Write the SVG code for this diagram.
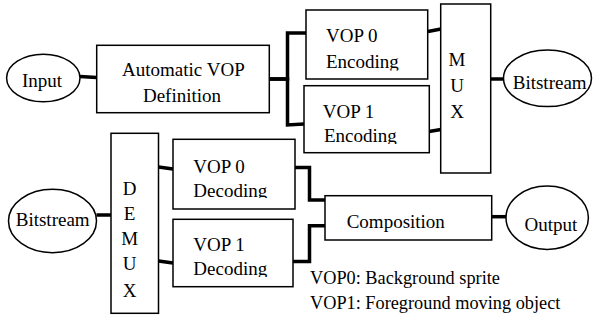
<svg xmlns="http://www.w3.org/2000/svg" width="593" height="324" viewBox="0 0 593 324">
<style>
.box{fill:#fff;stroke:#000;stroke-width:1.5}
.el{fill:#fff;stroke:#000;stroke-width:1.5}
.t{font-size:19px;fill:#000}
.lg{font-size:18.3px}
.c{text-anchor:middle}
.conn{fill:none;stroke:#000;stroke-width:3.5;stroke-linejoin:miter;stroke-linecap:butt}
</style>
<defs>
<clipPath id="clipE0"><rect x="306" y="10" width="122" height="60.5"/></clipPath>
<clipPath id="clipE1"><rect x="304" y="86" width="125" height="58"/></clipPath>
<clipPath id="clipD0"><rect x="173" y="139" width="122" height="59"/></clipPath>
<clipPath id="clipD1"><rect x="173" y="219" width="120" height="58"/></clipPath>
</defs>
<rect width="593" height="324" fill="#fff"/>
<g id="connectors">
<path class="conn" d="M80,76.5 L96.5,77.5"/>
<path class="conn" d="M269,79 H287.5 V33 H306"/>
<path class="conn" d="M269,79 H287.5 V125 L304,124"/>
<path class="conn" d="M428,31.5 L441,29"/>
<path class="conn" d="M429,131.5 L441,129.5"/>
<path class="conn" d="M491,79 H503.5"/>
<path class="conn" d="M96.5,215 H111"/>
<path class="conn" d="M158.5,167 L173,169"/>
<path class="conn" d="M158.5,261 L173,263"/>
<path class="conn" d="M295,167.5 H309.5 V200 H325"/>
<path class="conn" d="M293,261.5 H309.5 V225.7 H325"/>
<path class="conn" d="M491.7,216.7 H506"/>
</g>
<g font-family="'Liberation Serif', 'DejaVu Serif', 'Times New Roman', serif">
<g id="input">
<ellipse class="el" cx="43.3" cy="78" rx="36.7" ry="23.7"/>
<text class="t c" x="42" y="87.3">Input</text>
</g>
<g id="auto-vop">
<rect class="box" x="96.7" y="45.3" width="172.6" height="67.4"/>
<text class="t c" x="183.4" y="76">Automatic VOP</text>
<text class="t c" x="182" y="101.7">Definition</text>
</g>
<g id="vop0-enc">
<rect class="box" x="306" y="10" width="121.7" height="69"/>
<g clip-path="url(#clipE0)">
<text class="t" x="326" y="42.3">VOP 0</text>
<text class="t" x="326" y="67.5">Encoding</text>
</g>
</g>
<g id="vop1-enc">
<rect class="box" x="304" y="85.7" width="125.3" height="67"/>
<g clip-path="url(#clipE1)">
<text class="t" x="322.7" y="118.3">VOP 1</text>
<text class="t" x="324" y="141.7">Encoding</text>
</g>
</g>
<g id="mux">
<rect class="box" x="440.7" y="4" width="50" height="169"/>
<text class="t c" x="457" y="65.7">M</text>
<text class="t c" x="457" y="91.7">U</text>
<text class="t c" x="457" y="118.3">X</text>
</g>
<g id="bitstream-out">
<ellipse class="el" cx="547.5" cy="78.3" rx="44" ry="28.3"/>
<text class="t c" x="549.7" y="89.3">Bitstream</text>
</g>
<g id="bitstream-in">
<ellipse class="el" cx="52.5" cy="221" rx="44" ry="31.7"/>
<text class="t c" x="52.7" y="226">Bitstream</text>
</g>
<g id="demux">
<rect class="box" x="111" y="133.3" width="47.5" height="180"/>
<text class="t c" x="129.6" y="195">D</text>
<text class="t c" x="129.6" y="220">E</text>
<text class="t c" x="129.6" y="245">M</text>
<text class="t c" x="129.6" y="270">U</text>
<text class="t c" x="129.6" y="296.7">X</text>
</g>
<g id="vop0-dec">
<rect class="box" x="173" y="139.3" width="122" height="69.7"/>
<g clip-path="url(#clipD0)">
<text class="t" x="193.3" y="172.7">VOP 0</text>
<text class="t" x="193.3" y="196.7">Decoding</text>
</g>
</g>
<g id="vop1-dec">
<rect class="box" x="173" y="219.3" width="120" height="67.4"/>
<g clip-path="url(#clipD1)">
<text class="t" x="193.3" y="250.7">VOP 1</text>
<text class="t" x="193.3" y="275.3">Decoding</text>
</g>
</g>
<g id="composition">
<rect class="box" x="325" y="195.7" width="166.7" height="44.3"/>
<text class="t" x="346.7" y="228.3">Composition</text>
</g>
<g id="output">
<ellipse class="el" cx="547.2" cy="217.7" rx="41.2" ry="31.7"/>
<text class="t c" x="551" y="230.7">Output</text>
</g>
<g id="legend">
<text class="t lg" x="310" y="283.5">VOP0: Background sprite</text>
<text class="t lg" x="310" y="309.3">VOP1: Foreground moving object</text>
</g>
</g>
</svg>
